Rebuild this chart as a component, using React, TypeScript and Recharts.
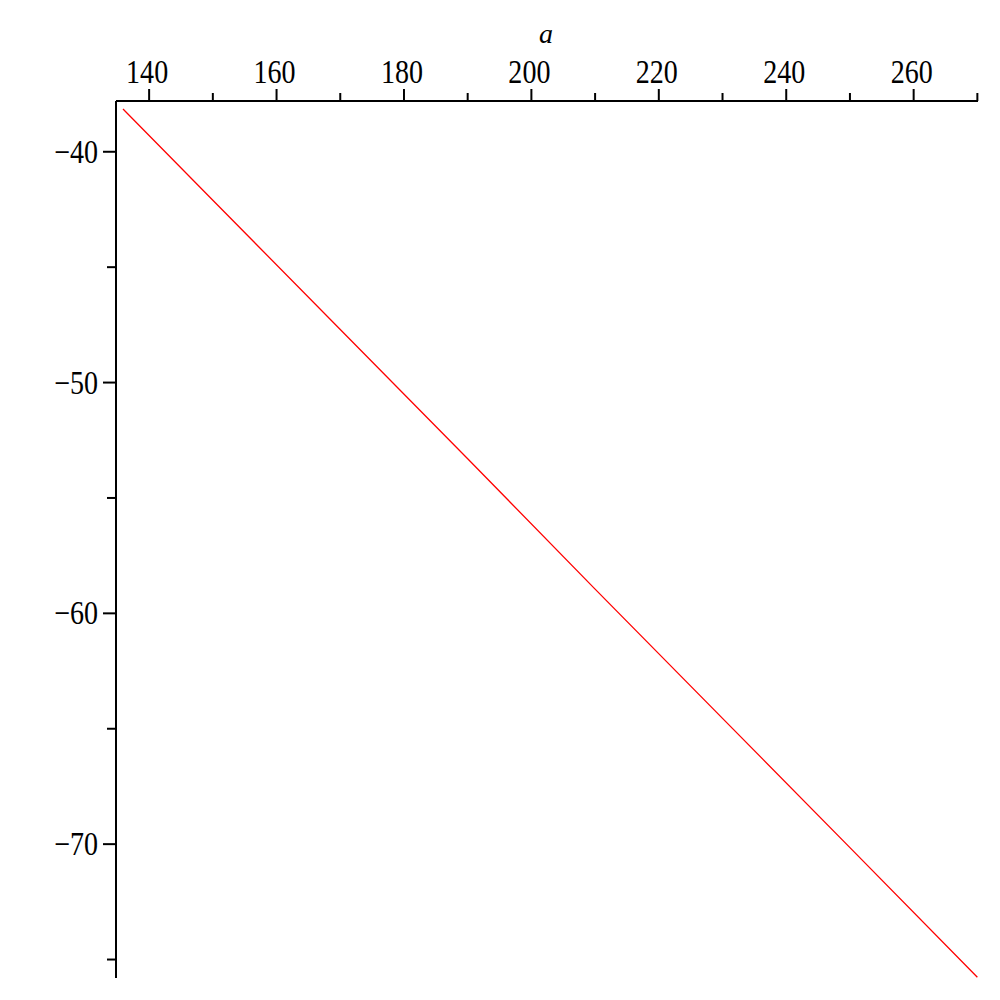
import React from 'react';
import { LineChart, Line, XAxis, YAxis } from 'recharts';

const aValues = [135.9, 150, 170, 190, 210, 230, 250, 270];
const fValues = [-38.15, -42.1, -47.7, -53.3, -58.95, -64.55, -70.15, -75.77];
const xTicks = [140, 150, 160, 170, 180, 190, 200, 210, 220, 230, 240, 250, 260, 270];
const xLabels = [140, 160, 180, 200, 220, 240, 260];
const yTicks = [-75, -70, -65, -60, -55, -50, -45, -40];
const yLabels = [-70, -60, -50, -40];

const data = aValues.map((a, i) => ({ a, f: fValues[i] }));

const FONT = '"Liberation Serif", "Times New Roman", serif';

const XTick = (props: any) => {
  const { x, y, payload } = props;
  const v = payload.value;
  const major = xLabels.includes(v);
  const len = major ? 12 : 8;
  return (
    <g>
      <line x1={x} y1={y} x2={x} y2={y - len} stroke="#000" strokeWidth={2} />
      {major && (
        <text
          transform={`translate(${x - 2},${y - 18}) scale(0.85,1)`}
          textAnchor="middle"
          fontFamily={FONT}
          fontSize={33}
          fill="#000"
        >
          {String(v)}
        </text>
      )}
    </g>
  );
};

const YTick = (props: any) => {
  const { x, y, payload } = props;
  const v = payload.value;
  const major = yLabels.includes(v);
  const len = major ? 13 : 9;
  return (
    <g>
      <line x1={x} y1={y} x2={x - len} y2={y} stroke="#000" strokeWidth={2} />
      {major && (
        <text
          transform={`translate(${x - 18},${y + 11}) scale(0.85,1)`}
          textAnchor="end"
          fontFamily={FONT}
          fontSize={33}
          fill="#000"
        >
          {'\u2212' + String(Math.abs(v))}
        </text>
      )}
    </g>
  );
};

export default function App() {
  return (
    <div style={{ position: 'absolute', left: 0, top: 0, width: 1000, height: 1000, background: '#fff' }}>
      <LineChart width={1000} height={1000} data={data} margin={{ top: 1, right: 22, bottom: 22, left: 0 }}>
        <XAxis
          dataKey="a"
          type="number"
          orientation="top"
          domain={[134.8, 270.1]}
          ticks={xTicks}
          height={100}
          tickSize={0}
          tickMargin={0}
          tickLine={false}
          axisLine={{ stroke: '#000', strokeWidth: 2 }}
          tick={<XTick />}
          interval={0}
          allowDataOverflow
        />
        <YAxis
          type="number"
          domain={[-75.8, -37.8]}
          ticks={yTicks}
          width={116}
          tickSize={0}
          tickMargin={0}
          tickLine={false}
          axisLine={{ stroke: '#000', strokeWidth: 2 }}
          tick={<YTick />}
          interval={0}
          allowDataOverflow
        />
        <Line
          type="linear"
          dataKey="f"
          stroke="#ff0000"
          strokeWidth={1.3}
          dot={false}
          isAnimationActive={false}
        />
        <text x={546} y={43} textAnchor="middle" fontFamily={FONT} fontStyle="italic" fontSize={28} fill="#000">
          a
        </text>
      </LineChart>
    </div>
  );
}
